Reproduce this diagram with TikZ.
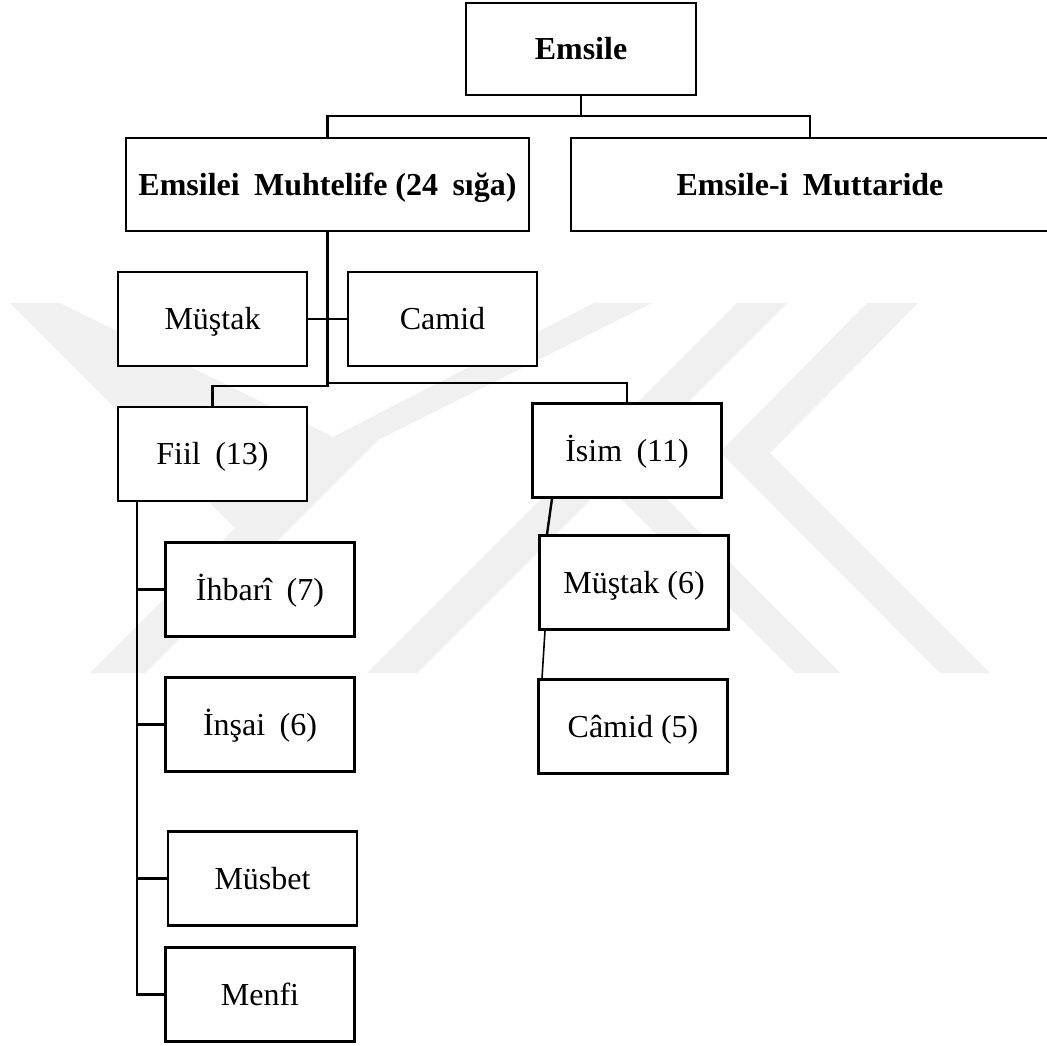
\documentclass[tikz,border=0pt]{standalone}
\usepackage{fontspec}
\setmainfont{Liberation Serif}
\begin{document}
\begin{tikzpicture}[x=1pt,y=-1pt,
  wm/.style={fill=black!6, draw=none},
  box/.style={draw, fill=white, line width=2.5pt, inner sep=0pt,
    minimum width=189pt, minimum height=94pt,
    text height=21pt, text depth=0pt,
    font=\fontsize{32}{37}\selectfont},
  bigbox/.style={box, font=\fontsize{32}{37}\selectfont\bfseries},
  conn/.style={line width=2.4pt},
  thin conn/.style={line width=1.6pt}]
\useasboundingbox (0,0) rectangle (1047,1045);
\clip (0,0) rectangle (1047,1045);
\fill[white] (0,0) rectangle (1047,1045);
% watermark
\fill[wm] (10,303) -- (60,303) -- (333,437) -- (594,303) -- (652,303) -- (378,440)
  -- (145,673) -- (90,673) -- (235,528) -- cycle;
\fill[wm] (737,303) -- (787,303) -- (417,673) -- (367,673) -- cycle;
\fill[wm] (582,460) -- (630,462) -- (840,673) -- (795,673) -- cycle;
\fill[wm] (867,303) -- (918,303) -- (770,453) -- (990,673) -- (940,673) -- (720,452) -- cycle;
% nodes
\node[bigbox, minimum width=230pt, minimum height=92pt] (emsile) at (581,49) {Emsile};
\node[bigbox, minimum width=403pt, minimum height=93pt] (muht) at (327.5,184.5) {Emsilei\hspace{0.45em}Muhtelife (24\hspace{0.45em}sığa)};
\node[bigbox, minimum width=478pt, minimum height=93pt] (mutt) at (810,184.5) {Emsile-i\hspace{0.45em}Muttaride};
\node[box] (mustak) at (212.5,319) {Müştak};
\node[box] (camid) at (442.5,319) {Camid};
\node[box] (fiil) at (212.5,454) {Fiil\hspace{0.45em}(13)};
\node[box] (isim) at (627,450.5) {İsim\hspace{0.45em}(11)};
\node[box] (ihbari) at (260,589.5) {İhbarî\hspace{0.45em}(7)};
\node[box] (insai) at (260,724.5) {İnşai\hspace{0.45em}(6)};
\node[box] (musbet) at (262.5,878.5) {Müsbet};
\node[box] (menfi) at (260,994.5) {Menfi};
\node[box] (mustak6) at (634,582.5) {Müştak (6)};
\node[box] (camid5) at (633,726.5) {Câmid (5)};
% connectors
\coordinate (j1) at (581,116);
\draw[conn] (emsile.south) -- (j1);
\draw[conn] (muht.north) |- (j1) -| (mutt.north);
\coordinate (j2) at (327.5,386);
\coordinate (j3) at (327.5,383);
\draw[conn] (muht.south) -- (j2) -| (fiil.north);
\draw[conn] (j3) -| (isim.north);
\draw[conn] (mustak.east) -- (camid.west);
\coordinate (ft) at (137,700);
\draw[conn] (fiil.south -| ft) |- (menfi.west);
\draw[conn] (ihbari.west) -- (ihbari.west -| ft);
\draw[conn] (insai.west) -- (insai.west -| ft);
\draw[conn] (musbet.west) -- (musbet.west -| ft);
\draw[conn] ([xshift=-75pt]isim.south) -- ([xshift=-87pt]mustak6.north);
\draw[thin conn] ([xshift=-89pt]mustak6.south) -- ([xshift=-91pt]camid5.north);
\end{tikzpicture}
\end{document}
